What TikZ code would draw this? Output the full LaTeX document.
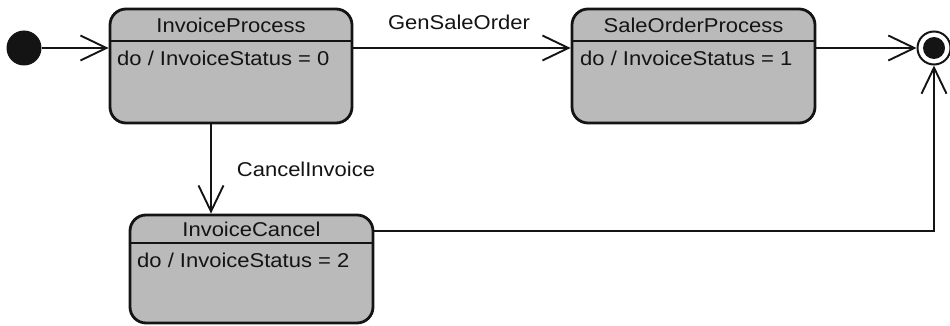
\documentclass[tikz,border=0pt]{standalone}
\usepackage{fontspec}
\setmainfont[FakeStretch=1.1]{Liberation Sans}
\usetikzlibrary{arrows.meta}
\definecolor{stfill}{RGB}{186,186,186}
\definecolor{ink}{RGB}{20,20,20}
\begin{document}
\begin{tikzpicture}[x=1pt,y=-1pt,
  statebox/.style={draw=ink, line width=2.8pt, fill=stfill, rounded corners=16pt, inner sep=0pt},
  divider/.style={draw=ink, line width=2pt},
  lbl/.style={font=\fontsize{20}{23}\selectfont, text=ink, inner sep=0pt},
  arr/.style={line width=1.9pt, draw=ink, -{Straight Barb[length=26pt,width=25pt,line width=1.9pt]}},
  ]
\useasboundingbox (0,0) rectangle (950,326);
% states
\node[statebox, minimum width=242pt, minimum height=114pt] (p) at (231,66) {};
\node[statebox, minimum width=243pt, minimum height=114pt] (s) at (693.5,66) {};
\node[statebox, minimum width=243pt, minimum height=108pt] (c) at (251.5,269) {};
\coordinate (d1) at (0,41);
\coordinate (d3) at (0,243);
\draw[divider] (p.west |- d1) -- (p.east |- d1);
\draw[divider] (s.west |- d1) -- (s.east |- d1);
\draw[divider] (c.west |- d3) -- (c.east |- d3);
\node[lbl] (ph) at (231,25) {InvoiceProcess};
\node[lbl, anchor=west] (pb) at (117,58) {do / InvoiceStatus = 0};
\node[lbl] (sh) at (693.5,25) {SaleOrderProcess};
\node[lbl, anchor=west] (sb) at (580,58) {do / InvoiceStatus = 1};
\node[lbl] (ch) at (251.5,229) {InvoiceCancel};
\node[lbl, anchor=west] (cb) at (137,260) {do / InvoiceStatus = 2};
% pseudo states
\node[circle, fill=ink, minimum size=35pt, inner sep=0pt] (init) at (24,48) {};
\node[circle, draw=ink, line width=2pt, minimum size=33pt, inner sep=0pt] (fin) at (934,48) {};
\node[circle, fill=ink, minimum size=22pt, inner sep=0pt] (fini) at (fin.center) {};
% transitions
\coordinate (vx) at (211,0);
\coordinate (cy) at (0,231);
\draw[arr] (init.east) -- (init.east -| p.west);
\draw[arr] (p.east |- init) -- (s.west |- init);
\draw[arr] (s.east |- fin) -- (fin.west);
\draw[arr] (p.south -| vx) -- (c.north -| vx);
\draw[arr] (c.east |- cy) -| (fin.south);
\node[lbl] (g) at (459,22) {GenSaleOrder};
\node[lbl] (ci) at (306,169) {CancelInvoice};
\end{tikzpicture}
\end{document}
